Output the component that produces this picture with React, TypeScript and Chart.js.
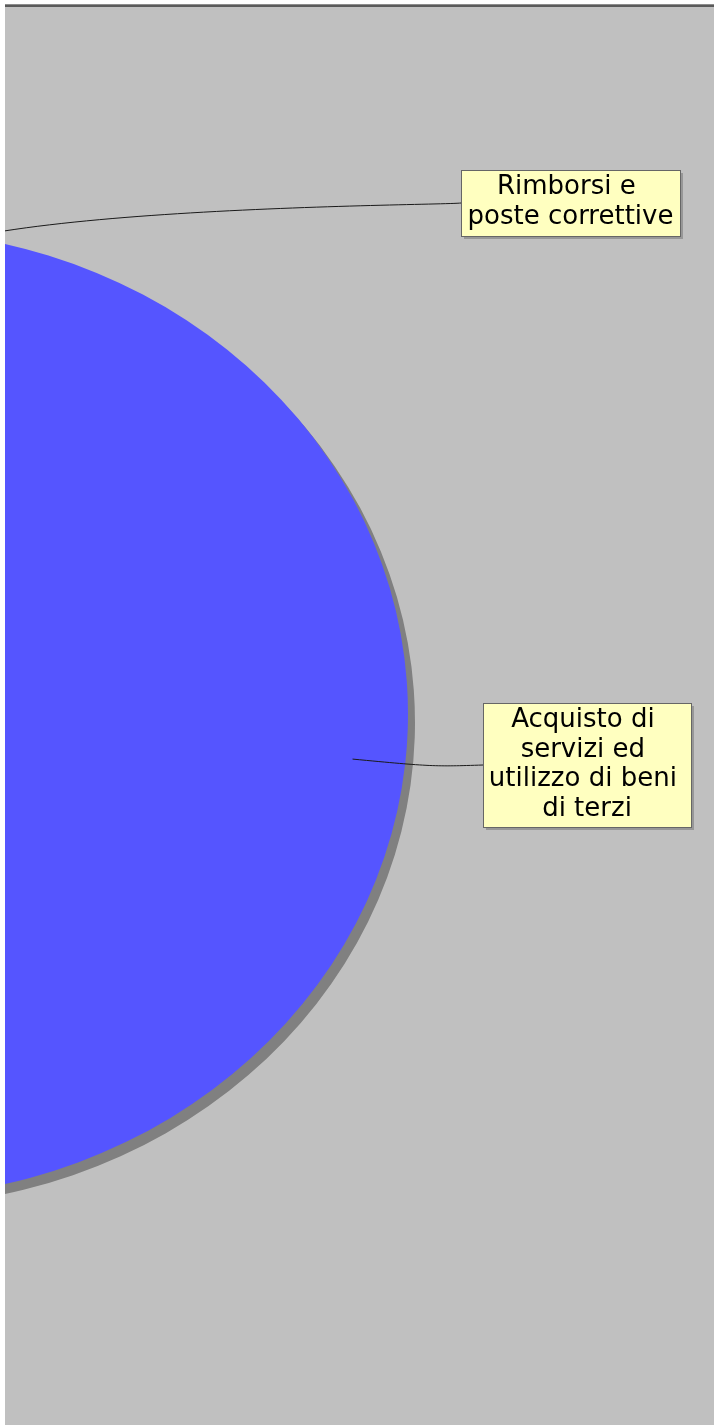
import React, { useEffect, useRef } from 'react';
import { Chart, registerables } from 'chart.js';

Chart.register(...registerables);

// ---- data ----
const CATEGORIES = [
  'Rimborsi e poste correttive',
  'Acquisto di servizi ed utilizzo di beni di terzi',
];
// share of the whole pie in percent (the remaining slices lie outside the visible crop)
const SHARE_PERCENT = [0.5, 52.3];
const COLORS = ['#FF5555', '#5555FF'];
const LABEL_LINES = [
  ['Rimborsi e ', 'poste correttive'],
  ['Acquisto di ', 'servizi ed ', 'utilizzo di beni ', 'di terzi'],
];

// ---- layout / style (page pixel coordinates) ----
const CANVAS_LEFT = 5;
const CANVAS_TOP = 7;
const CANVAS_W = 709;
const CANVAS_H = 1418;
const PIE_CENTER = { x: -121, y: 714 };
const PIE_RX = 529;
const PIE_RY = 484;
const SHADOW_OFFSET = { x: 7, y: 8.5 };
const SHADOW_COLOR = '#808080';
const LINK_DEPTH = 0.9;
const LINK_AREA = 1.05;
const LABEL_BOXES = [
  { x: 461, y: 170, w: 219, h: 66 },
  { x: 483, y: 703, w: 208, h: 124 },
];
const LABEL_FONT = '26px "DejaVu Sans", "Liberation Sans", sans-serif';
const LINE_HEIGHT = 29.6;
const FIRST_BASELINE = 24;

const toCanvas = (px: number, py: number) => ({ x: px - CANVAS_LEFT, y: py - CANVAS_TOP });

const croppedPiePlugin = {
  id: 'croppedPie',
  beforeDatasetsDraw(chart: any) {
    const meta = chart.getDatasetMeta(0);
    const first = meta.data[0];
    const { x, y, outerRadius } = first.getProps(['x', 'y', 'outerRadius'], true);
    const c = toCanvas(PIE_CENTER.x, PIE_CENTER.y);
    const sx = PIE_RX / outerRadius;
    const sy = PIE_RY / outerRadius;
    const ctx = chart.ctx;
    ctx.save();
    ctx.translate(c.x, c.y);
    ctx.scale(sx, sy);
    ctx.translate(-x, -y);
    const ox = SHADOW_OFFSET.x / sx;
    const oy = SHADOW_OFFSET.y / sy;
    ctx.fillStyle = SHADOW_COLOR;
    ctx.beginPath();
    meta.data.forEach((el: any) => {
      const p = el.getProps(['startAngle', 'endAngle'], true);
      ctx.moveTo(x + ox, y + oy);
      ctx.arc(x + ox, y + oy, outerRadius, p.startAngle, p.endAngle);
      ctx.closePath();
    });
    ctx.fill();
  },
  afterDatasetsDraw(chart: any) {
    const ctx = chart.ctx;
    ctx.restore();
    const meta = chart.getDatasetMeta(0);
    const c = toCanvas(PIE_CENTER.x, PIE_CENTER.y);

    // leader lines
    LABEL_BOXES.forEach((box, i) => {
      const el = meta.data[i];
      const { startAngle, endAngle } = el.getProps(['startAngle', 'endAngle'], true);
      const t = (startAngle + endAngle) / 2;
      const link = { x: c.x + Math.cos(t) * PIE_RX * LINK_DEPTH, y: c.y + Math.sin(t) * PIE_RY * LINK_DEPTH };
      const elbow = { x: c.x + Math.cos(t) * PIE_RX * LINK_AREA, y: c.y + Math.sin(t) * PIE_RY * LINK_AREA };
      const anchorX = c.x + PIE_RX * LINK_AREA;
      const b = toCanvas(box.x, box.y);
      const target = { x: b.x, y: b.y + box.h / 2 };
      ctx.save();
      ctx.beginPath();
      ctx.moveTo(target.x, target.y);
      ctx.bezierCurveTo(anchorX, elbow.y, elbow.x, elbow.y, link.x, link.y);
      ctx.strokeStyle = '#1a1a1a';
      ctx.lineWidth = 1;
      ctx.stroke();
      ctx.restore();
    });

    // label boxes
    LABEL_BOXES.forEach((box, i) => {
      const b = toCanvas(box.x, box.y);
      ctx.save();
      ctx.fillStyle = 'rgba(110,110,110,0.5)';
      ctx.fillRect(b.x + 3, b.y + 3, box.w, box.h);
      ctx.fillStyle = '#FFFFC0';
      ctx.fillRect(b.x, b.y, box.w, box.h);
      ctx.strokeStyle = '#666666';
      ctx.lineWidth = 1;
      ctx.strokeRect(Math.round(b.x) + 0.5, Math.round(b.y) + 0.5, box.w, box.h);
      ctx.fillStyle = '#000000';
      ctx.font = LABEL_FONT;
      ctx.textAlign = 'center';
      ctx.textBaseline = 'alphabetic';
      LABEL_LINES[i].forEach((line, j) => {
        ctx.fillText(line, b.x + box.w / 2, b.y + FIRST_BASELINE + j * LINE_HEIGHT);
      });
      ctx.restore();
    });
  },
};

export default function App() {
  const ref = useRef<HTMLCanvasElement>(null);

  useEffect(() => {
    const canvas = ref.current;
    if (!canvas) return;
    const total = SHARE_PERCENT.reduce((s, v) => s + v, 0);
    const chart = new Chart(canvas, {
      type: 'pie',
      data: {
        labels: CATEGORIES,
        datasets: [
          {
            data: SHARE_PERCENT,
            backgroundColor: COLORS,
            borderWidth: 0,
            hoverOffset: 0,
            radius: PIE_RY,
            clip: false,
          } as any,
        ],
      },
      options: {
        animation: false,
        responsive: false,
        maintainAspectRatio: false,
        events: [],
        rotation: 0,
        circumference: (total / 100) * 360,
        plugins: {
          legend: { display: false },
          tooltip: { enabled: false },
        },
      } as any,
      plugins: [croppedPiePlugin as any],
    });
    return () => chart.destroy();
  }, []);

  return (
    <div
      style={{
        position: 'fixed',
        left: 0,
        top: 0,
        width: 714,
        height: 1425,
        background: '#ffffff',
        overflow: 'hidden',
      }}
    >
      <div style={{ position: 'absolute', left: 5, top: 4, width: 709, height: 1, background: '#8c8c8c' }} />
      <div style={{ position: 'absolute', left: 5, top: 5, width: 709, height: 2, background: '#5a5a5a' }} />
      <canvas
        ref={ref}
        width={CANVAS_W}
        height={CANVAS_H}
        style={{
          position: 'absolute',
          left: CANVAS_LEFT,
          top: CANVAS_TOP,
          width: CANVAS_W,
          height: CANVAS_H,
          background: '#C0C0C0',
          display: 'block',
        }}
      />
    </div>
  );
}
